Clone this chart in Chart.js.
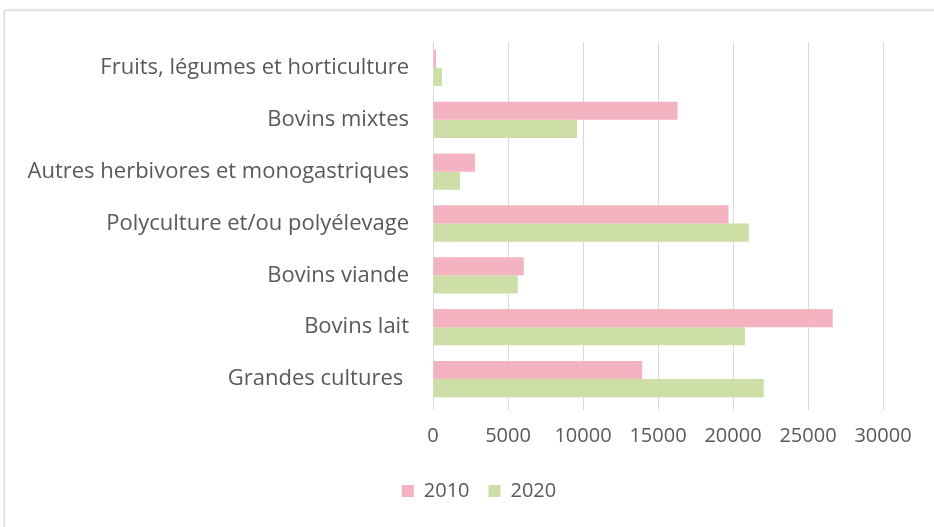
<!DOCTYPE html>
<html>
<head>
<meta charset="utf-8">
<script src="https://cdn.jsdelivr.net/npm/chart.js@4"></script>
<style>
  html, body { margin: 0; padding: 0; background: #fff; overflow: hidden; }
  #box {
    position: absolute; left: 4px; top: 10px;
    width: 948px; height: 530px;
    border: 1px solid #d9d9d9; box-shadow: 0 0 2px #ccc;
  }
  canvas { display: block; }
</style>
</head>
<body>
<div id="box"><canvas id="chart" width="948" height="517"></canvas></div>
<script>
const categories = [
  "Fruits, légumes et horticulture",
  "Bovins mixtes",
  "Autres herbivores et monogastriques",
  "Polyculture et/ou polyélevage",
  "Bovins viande",
  "Bovins lait",
  "Grandes cultures "
];
const values2010 = [200, 16300, 2800, 19700, 6050, 26650, 13950];
const values2020 = [600, 9600, 1800, 21050, 5650, 20800, 22050];
const seriesLabels = ["2010", "2020"];
const xTicks = [0, 5000, 10000, 15000, 20000, 25000, 30000];

const textColor = "#595959";
const labelFont = { family: "'Open Sans', sans-serif", size: 22 };
const numFont = { family: "'Open Sans', sans-serif", size: 20 };

// the legend is centred on the whole (wider) chart box, not the padded one
const shiftLegend = {
  id: "shiftLegend",
  afterLayout(chart) {
    chart.legend.left += 35;
    chart.legend.right += 35;
  },
};

new Chart(document.getElementById("chart").getContext("2d"), {
  type: "bar",
  data: {
    labels: categories,
    datasets: [
      { label: seriesLabels[0], data: values2010, backgroundColor: "#F4B3C1" },
      { label: seriesLabels[1], data: values2020, backgroundColor: "#CDDFA6" },
    ],
  },
  options: {
    indexAxis: "y",
    responsive: false,
    animation: false,
    layout: { padding: { top: 31, right: 70, bottom: 17, left: 0 } },
    datasets: { bar: { barPercentage: 1, categoryPercentage: 0.7 } },
    scales: {
      x: {
        min: xTicks[0],
        max: xTicks[xTicks.length - 1],
        afterBuildTicks: (scale) => {
          scale.ticks = xTicks.map((v) => ({ value: v }));
        },
        ticks: { color: textColor, font: numFont, padding: 14, callback: (v) => String(v) },
        grid: { color: "#d9d9d9", tickLength: 5, drawTicks: true },
        border: { display: false },
        afterFit: (scale) => { scale.height = 57; },
      },
      y: {
        ticks: { color: textColor, font: labelFont, padding: 16 },
        grid: { display: false },
        border: { display: false },
        afterFit: (scale) => { scale.width = 428; },
      },
    },
    plugins: {
      tooltip: { enabled: false },
      legend: {
        position: "bottom",
        labels: {
          color: textColor,
          font: numFont,
          boxWidth: 12,
          boxHeight: 12,
          padding: 19,
        },
      },
    },
  },
  plugins: [shiftLegend],
});
</script>
</body>
</html>
